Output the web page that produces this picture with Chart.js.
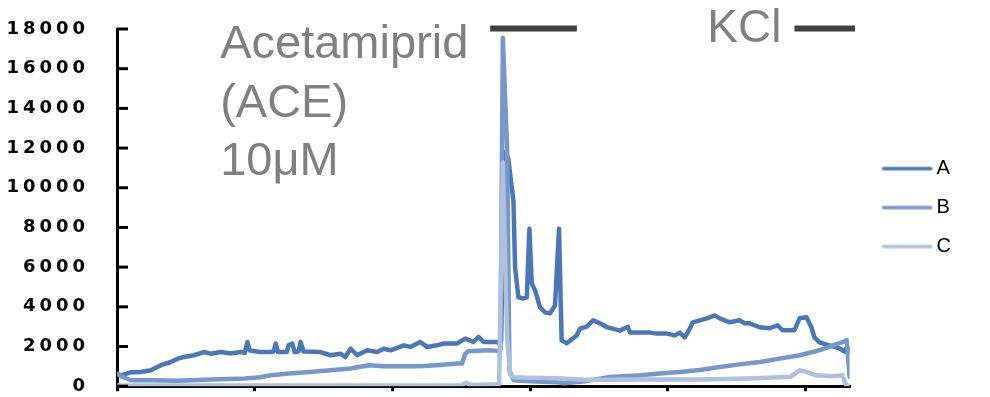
<!DOCTYPE html>
<html>
<head>
<meta charset="utf-8">
<script src="https://cdn.jsdelivr.net/npm/chart.js@4.4.1/dist/chart.umd.min.js"></script>
<style>
  html, body { margin: 0; padding: 0; background: #ffffff; overflow: hidden; }
  #wrap { width: 990px; height: 397px; position: relative; }
</style>
</head>
<body>
<div id="wrap"><canvas id="trace"></canvas></div>
<script>
// Calcium imaging traces (fluorescence, a.u.) against recording time.
const seriesNames = ['A', 'B', 'C'];

const timeA = [0,2.9,10,17.4,24.6,31.9,39.1,44.2,48.6,55.8,63,68.1,75.4,82.6,89.9,92.8,94.7,96.4,104.3,111.6,113.8,115.2,117,123.2,124.6,127.3,129,131.9,133.3,135.5,147.8,155,162.3,165.9,169.6,174.4,181.7,188.9,193.7,198.6,208.2,213,220.3,225.1,232.4,237.2,246.9,252.9,258.9,262.5,266.2,275.9,277.5,279,281.2,284.1,287.9,289.1,291.5,295.1,297.6,299.5,301.2,303.6,307.2,310.9,314.5,318.1,321,322.9,326.6,333.8,336.2,341.1,345.7,350.7,355.8,360.1,365.2,371,372.5,379.7,387,392,399.3,405.1,408.7,412.3,416,418.1,423.2,428.3,434.1,437.7,444.9,452.2,455.8,459.4,466.7,473.9,479.7,483.3,492,495.7,500.7,504.3,506.5,510.1,517.4,524.6,528.3,530.4,531.9];
const valuesA = [620,550,700,720,800,1060,1220,1390,1470,1560,1720,1640,1720,1650,1720,1680,2230,1800,1720,1720,1750,2150,1720,1720,2060,2150,1720,1760,2230,1750,1720,1560,1640,1470,1890,1560,1810,1720,1890,1810,2060,1980,2230,1980,2060,2150,2150,2400,2230,2480,2230,2230,2150,2300,11800,11500,9350,5980,4480,4420,4480,7940,5180,4830,3970,3720,3670,4070,7940,2310,2160,2560,2900,3000,3320,3170,2970,2900,2800,3000,2700,2700,2700,2650,2650,2560,2700,2460,2900,3220,3320,3420,3570,3420,3220,3320,3170,3170,2970,2920,3070,2820,2820,3420,3470,2970,2460,2210,2060,1910,1750,2000,1760];

const timeB = [0,2.9,10.1,24.6,44.2,68.1,92.8,104.3,111.6,125,140,155,169.6,183,193.7,220,232,247,250.6,252.9,255,270,276,278.5,280.2,283.3,285,288,300,320,325,340,358,380,394,409,423,437.7,452,467,481,496,510,520,527.3,530,532];
const valuesB = [640,500,300,300,270,340,390,450,550,640,720,800,890,1060,1000,1000,1060,1140,1140,1640,1760,1810,1780,1800,17560,12000,800,300,250,200,150,250,470,550,640,720,820,970,1100,1220,1390,1560,1810,2060,2230,2310,470];

const timeC = [0,60,120,180,240,250,253.5,257,270,277.5,280.2,283.3,285.5,288,300,320,340,360,380,400,423,459,489,495.7,500.7,507.9,519.5,526.8,529.5,532];
const valuesC = [30,40,30,40,40,50,170,60,80,100,11280,2500,600,450,420,400,330,330,340,340,340,390,470,800,720,550,500,550,50,30];

// Treatment windows (same time units as the traces)
const aceWindow = [271, 334];
const kclWindow = [492, 536];
const aceText = ['Acetamiprid', '(ACE)', '10μM'];
const kclText = 'KCl';

const lineColors = ['#4a78b6', '#7597cc', '#adc0de'];

const toPoints = (t, v) => t.map((x, i) => ({ x: x, y: v[i] }));

function legendIcon(color) {
  const c = document.createElement('canvas');
  c.width = 70; c.height = 8;
  const g = c.getContext('2d');
  g.strokeStyle = color; g.lineWidth = 3.5; g.lineCap = 'round';
  g.beginPath(); g.moveTo(21, 4); g.lineTo(68, 4); g.stroke();
  return c;
}
const icons = lineColors.map(legendIcon);

const decorations = {
  id: 'decorations',
  beforeDraw(chart) {
    chart.ctx.letterSpacing = '4px';
  },
  beforeDatasetsDraw(chart) {
    chart.ctx.letterSpacing = '0px';
  },
  afterDraw(chart) {
    const ctx = chart.ctx;
    const area = chart.chartArea;
    const x = chart.scales.x;
    const y = chart.scales.y;
    ctx.save();
    ctx.letterSpacing = '0px';
    ctx.setLineDash([]);
    ctx.globalAlpha = 1;

    // inward tick marks on the value axis
    ctx.fillStyle = '#000000';
    for (const t of y.ticks) {
      const py = y.getPixelForValue(t.value);
      ctx.fillRect(area.left, py - 1.5, 11, 3);
    }

    // treatment bars
    const barY = y.getPixelForValue(18000);
    ctx.fillStyle = '#404040';
    [aceWindow, kclWindow].forEach(w => {
      const x0 = x.getPixelForValue(w[0]);
      const x1 = x.getPixelForValue(w[1]);
      ctx.fillRect(x0, barY - 3.5, x1 - x0, 6);
    });

    // treatment labels
    ctx.fillStyle = '#808080';
    ctx.textBaseline = 'alphabetic';
    ctx.textAlign = 'left';
    ctx.font = '47px "Liberation Sans", Arial, sans-serif';
    const aceLeft = x.getPixelForValue(aceWindow[0]) - 270;
    aceText.forEach((s, i) => ctx.fillText(s, aceLeft, area.top + 29 + i * 58.5));
    ctx.textAlign = 'right';
    ctx.font = '46px "Liberation Sans", Arial, sans-serif';
    ctx.fillText(kclText, x.getPixelForValue(kclWindow[0]) - 13, area.top + 13);
    ctx.restore();
  }
};

new Chart(document.getElementById('trace'), {
  type: 'line',
  data: {
    datasets: [
      { label: seriesNames[0], data: toPoints(timeA, valuesA), borderColor: lineColors[0], backgroundColor: lineColors[0], borderWidth: 4.5, order: 3 },
      { label: seriesNames[1], data: toPoints(timeB, valuesB), borderColor: lineColors[1], backgroundColor: lineColors[1], borderWidth: 4.5, order: 2 },
      { label: seriesNames[2], data: toPoints(timeC, valuesC), borderColor: lineColors[2], backgroundColor: lineColors[2], borderWidth: 4.5, order: 1 }
    ]
  },
  options: {
    responsive: true,
    maintainAspectRatio: false,
    animation: false,
    layout: { padding: { top: 29, bottom: 0, left: 0, right: 29 } },
    elements: {
      point: { radius: 0 },
      line: { tension: 0, borderCapStyle: 'round', borderJoinStyle: 'round' }
    },
    scales: {
      x: {
        type: 'linear', min: 0, max: 532,
        ticks: { display: false, stepSize: 100, includeBounds: false },
        grid: { drawOnChartArea: false, drawTicks: true, tickLength: 5, color: '#000', lineWidth: 3 },
        border: { display: true, color: '#000', width: 3 },
        afterFit(scale) { scale.height = 5; }
      },
      y: {
        min: 0, max: 18000,
        ticks: {
          stepSize: 2000, color: '#000', padding: 0,
          font: { family: 'DejaVu Sans', size: 18, weight: 'bold' },
          callback: v => String(v)
        },
        grid: { display: false, drawTicks: true, tickLength: 28 },
        border: { display: true, color: '#000', width: 3 },
        afterFit(scale) { scale.width = 117; }
      }
    },
    plugins: {
      tooltip: { enabled: false },
      legend: {
        position: 'right',
        align: 'center',
        fullSize: false,
        labels: {
          usePointStyle: true,
          pointStyleWidth: 58,
          padding: 19,
          color: '#000',
          font: { family: 'Liberation Sans', size: 20 },
          sort: (a, b) => a.datasetIndex - b.datasetIndex,
          generateLabels(chart) {
            return chart.data.datasets.map((ds, i) => ({
              text: ds.label,
              datasetIndex: i,
              pointStyle: icons[i],
              fillStyle: ds.borderColor,
              strokeStyle: ds.borderColor,
              lineWidth: 0,
              hidden: false,
              fontColor: '#000'
            }));
          }
        }
      }
    }
  },
  plugins: [decorations]
});
</script>
</body>
</html>
